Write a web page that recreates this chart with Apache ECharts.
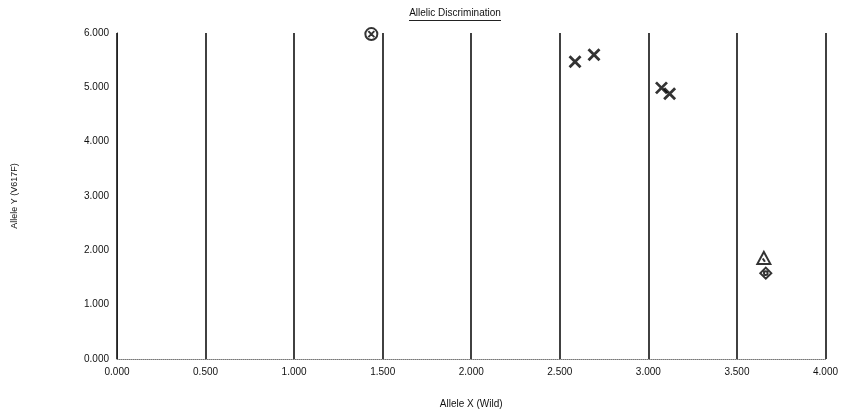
<!DOCTYPE html>
<html>
<head>
<meta charset="utf-8">
<script src="https://cdn.jsdelivr.net/npm/echarts@6/dist/echarts.min.js"></script>
<style>
  html, body { margin: 0; padding: 0; background: #fff; }
  #chart { width: 841px; height: 419px; }
</style>
</head>
<body>
<div id="chart"></div>
<script>
// values: [Allele X, Allele Y]
var circlePts = [[1.436, 5.98]];
var crossPts = [[2.586, 5.47], [2.693, 5.60], [3.074, 4.99], [3.120, 4.88]];
var trianglePts = [[3.652, 1.86]];
var diamondPts = [[3.663, 1.58]];

var xTicks = [0, 0.5, 1, 1.5, 2, 2.5, 3, 3.5, 4];
var yTicks = [0, 1, 2, 3, 4, 5, 6];

var labelFont = { color: '#111', fontSize: 10, fontFamily: 'Liberation Sans' };

var myChart = echarts.init(document.getElementById('chart'));
var option = {
    backgroundColor: '#fff',
    animation: false,
    title: {
        text: 'Allelic Discrimination',
        left: 450,
        textAlign: 'center',
        top: 3,
        textStyle: { color: '#111', fontSize: 10, fontWeight: 'normal', fontFamily: 'Liberation Sans' }
    },
    graphic: [{
        // underline of the title
        type: 'line',
        shape: { x1: 409, y1: 20.5, x2: 501, y2: 20.5 },
        style: { stroke: '#222', lineWidth: 1 }
    }],
    grid: { left: 117, right: 11, top: 33, bottom: 60 },
    xAxis: {
        type: 'value',
        min: xTicks[0],
        max: xTicks[xTicks.length - 1],
        interval: 0.5,
        name: 'Allele X (Wild)',
        nameLocation: 'middle',
        nameGap: 40,
        nameTextStyle: labelFont,
        axisLine: { show: true, lineStyle: { color: '#777', type: 'dotted', width: 1 } },
        axisTick: { show: false },
        axisLabel: Object.assign({ margin: 8, formatter: function (v) { return v.toFixed(3); } }, labelFont),
        splitLine: { show: true, lineStyle: { color: '#111', width: 1.6 } }
    },
    yAxis: {
        type: 'value',
        min: yTicks[0],
        max: yTicks[yTicks.length - 1],
        interval: 1,
        name: 'Allele Y (V617F)',
        nameLocation: 'middle',
        nameRotate: 90,
        nameGap: 98,
        nameTextStyle: Object.assign({}, labelFont, { fontSize: 9 }),
        axisLine: { show: true, lineStyle: { color: '#222', width: 1 } },
        axisTick: { show: false },
        axisLabel: Object.assign({ margin: 8, formatter: function (v) { return v.toFixed(3); } }, labelFont),
        splitLine: { show: false }
    },
    series: [{
        type: 'scatter',
        data: circlePts,
        symbol: 'path://M12,2 A10,10 0 1,1 11.99,2 Z M7,7 L17,17 M17,7 L7,17',
        symbolSize: 12,
        itemStyle: { color: '#fff', borderColor: '#000', borderWidth: 2 }
    }, {
        type: 'scatter',
        data: crossPts,
        symbol: 'path://M0,0 L10,10 M10,0 L0,10',
        symbolSize: 11,
        itemStyle: { color: 'none', borderColor: '#000', borderWidth: 2.8 }
    }, {
        type: 'scatter',
        data: trianglePts,
        symbol: 'path://M6,0 L12,11 L0,11 Z M5,6 L7,9',
        symbolSize: [13, 12],
        itemStyle: { color: '#fff', borderColor: '#000', borderWidth: 2 }
    }, {
        type: 'scatter',
        data: diamondPts,
        symbol: 'path://M6,0 L12,6 L6,12 L0,6 Z M6,4 A2,2 0 1,1 5.99,4 Z',
        symbolSize: 11,
        itemStyle: { color: '#fff', borderColor: '#000', borderWidth: 2 }
    }]
};
myChart.setOption(option);
</script>
</body>
</html>
